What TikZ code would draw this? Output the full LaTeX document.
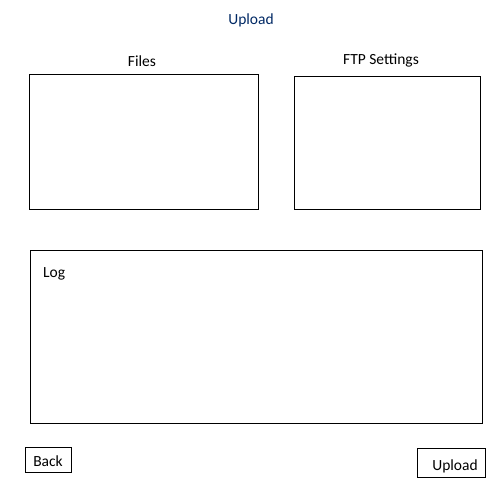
\documentclass[tikz,border=0pt]{standalone}
\usepackage{fontspec}
\setmainfont{Carlito}
\usepackage{tikz}
\definecolor{titlenavy}{RGB}{0,40,100}
\usetikzlibrary{positioning}

\begin{document}
\begin{tikzpicture}[x=1pt, y=-1pt,
    font=\fontsize{15.5}{18}\selectfont,
    panel/.style={draw, line width=1pt, inner sep=0pt},
    button/.style={draw, line width=1pt, inner sep=0pt}]
            \useasboundingbox (0,0) rectangle (500,500);
            % Title
            \node[text=titlenavy] (title) at (251,20) {Upload};

            % Panels
            \node[panel, minimum width=229pt, minimum height=134pt] (files) at (143.5,142) {};
            \node[panel, minimum width=186pt, minimum height=132pt] (ftp) at (387,143) {};
            \node[panel, minimum width=452pt, minimum height=173pt] (log) at (256,336.5) {};

            % Panel captions
            \node (filescap) at (142,61) {Files};
            \node (ftpcap) at (381,60) {FTP Settings};
            \node[anchor=west, inner sep=0pt] (logcap) at (43,274) {Log};

            % Buttons
            \node[button, minimum width=46pt, minimum height=25pt] (back) at (48,459.5) {\raisebox{-2pt}[\height][\depth]{Back}};
            \node[button, minimum width=68pt, minimum height=29pt] (upload) at (451,462.5) {\hspace{8pt}\raisebox{-4pt}[\height][\depth]{Upload}};
\end{tikzpicture}
\end{document}
